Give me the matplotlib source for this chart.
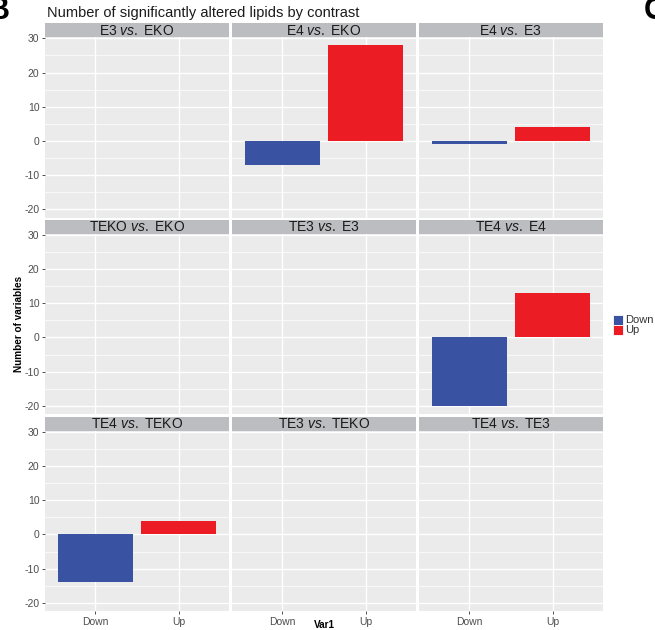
import matplotlib
matplotlib.use("Agg")
import matplotlib.pyplot as plt
from matplotlib.patches import Rectangle

plt.rcParams["font.family"] = ["Liberation Sans", "DejaVu Sans"]
plt.rcParams["mathtext.fontset"] = "custom"
plt.rcParams["mathtext.rm"] = "Liberation Sans"
plt.rcParams["mathtext.it"] = "Liberation Sans:italic"

# contrasts, facet order (row by row)
group_a = ["E3", "E4", "E4", "TEKO", "TE3", "TE4", "TE4", "TE3", "TE4"]
group_b = ["EKO", "EKO", "E3", "EKO", "E3", "E4", "TEKO", "TEKO", "TE3"]
# signed counts of altered lipids; None = no lipids in that direction
down_counts = [None, -7, -1, None, None, -20, -14, None, None]
up_counts = [None, 28, 4, None, None, 13, 4, None, None]
categories = ["Down", "Up"]
fill_colors = {"Down": "#3a52a2", "Up": "#ec1c24"}

W, H = 655, 630
fig = plt.figure(figsize=(W / 100, H / 100), dpi=100)
fig.patch.set_facecolor("white")


def fx(px):
    return px / W


def fy(py):
    return 1 - py / H


# facet grid geometry (pixels)
col_left = [45, 232, 419]
col_w = 184
strip_top = [23, 219.5, 416.5]
strip_h = 14
panel_h = 180.5

vals = [v for v in down_counts + up_counts if v is not None]
lo, hi = min(vals), max(vals)
pad = 0.05 * (hi - lo)
ylim = (lo - pad, hi + pad)

tick_col = "#4d4d4d"
for i in range(9):
    r, c = divmod(i, 3)
    x0 = col_left[c]
    st = strip_top[r]
    # strip
    sax = fig.add_axes([fx(x0), fy(st + strip_h), fx(col_w), strip_h / H])
    sax.set_facecolor("#bcbdc1")
    sax.set_xticks([]); sax.set_yticks([])
    for s in sax.spines.values():
        s.set_visible(False)
    sax.text(0.5, 0.45, f"{group_a[i]} $\\mathit{{vs.}}$ {group_b[i]}",
             ha="center", va="center", fontsize=10, color="#1a1a1a",
             transform=sax.transAxes)

    ax = fig.add_axes([fx(x0), fy(st + strip_h + panel_h), fx(col_w), panel_h / H])
    ax.set_facecolor("#ebebeb")
    for s in ax.spines.values():
        s.set_visible(False)
    ax.set_xlim(0.4, 2.6)
    ax.set_ylim(*ylim)
    ax.set_yticks([-20, -10, 0, 10, 20, 30])
    ax.set_yticks([-15, -5, 5, 15, 25], minor=True)
    ax.set_xticks([1, 2])
    ax.grid(True, which="major", color="white", linewidth=1.0)
    ax.grid(True, which="minor", axis="y", color="white", linewidth=0.5)
    ax.set_axisbelow(True)
    ax.tick_params(which="minor", length=0)
    ax.tick_params(which="major", length=2.5, width=0.6, color="#333333",
                   labelsize=7.5, labelcolor=tick_col, pad=1.5)
    ax.set_yticklabels(["-20", "-10", "0", "10", "20", "30"])
    ax.set_xticklabels(categories)
    if c != 0:
        ax.tick_params(axis="y", left=False, labelleft=False)
    if r != 2:
        ax.tick_params(axis="x", bottom=False, labelbottom=False)

    for k, (cat, v) in enumerate(zip(categories, [down_counts[i], up_counts[i]])):
        if v is None:
            continue
        ax.bar(k + 1, v, width=0.9, color=fill_colors[cat], linewidth=0)

# title and axis titles
fig.text(fx(47), fy(13), "Number of significantly altered lipids by contrast",
         fontsize=10.5, color="#1a1a1a", va="center", ha="left")
fig.text(fx(19), fy(324), "Number of variables", rotation=90, fontsize=7.2,
         fontweight="bold", ha="center", va="center")
fig.text(fx(324), fy(625), "Var1", fontsize=7.2, fontweight="bold",
         ha="center", va="center")

# legend
for k, cat in enumerate(categories):
    ky = 315 + 10 * k
    fig.patches.append(Rectangle((fx(613), fy(ky + 10)), fx(10), 10 / H,
                                 transform=fig.transFigure, facecolor=fill_colors[cat],
                                 edgecolor="white", linewidth=0.6))
    fig.text(fx(625.5), fy(ky + 5), cat, fontsize=8, color="#333333",
             ha="left", va="center")

# panel letters from the surrounding figure
fig.text(fx(10), fy(11), "B", fontsize=22, fontweight="bold", ha="right", va="center")
fig.text(fx(644), fy(11), "C", fontsize=22, fontweight="bold", ha="left", va="center")

fig.savefig("out.png", dpi=100)
